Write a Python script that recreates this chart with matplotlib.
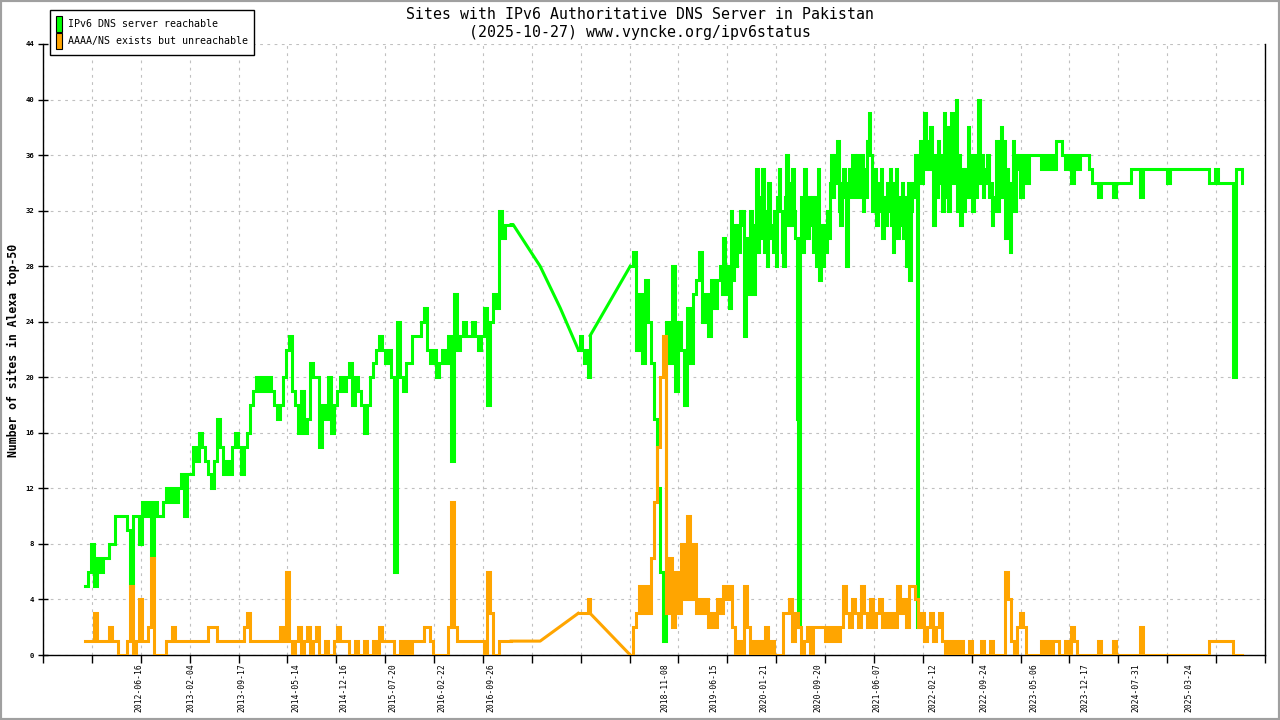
import numpy as np
import pandas as pd
import matplotlib
matplotlib.use('Agg')
import matplotlib.pyplot as plt
import matplotlib.dates as mdates
from matplotlib.patches import Rectangle, Patch
from matplotlib.font_manager import FontProperties

# ---------------- data ----------------
title_text = 'Sites with IPv6 Authoritative DNS Server in Pakistan\n(2025-10-27) www.vyncke.org/ipv6status'
ylabel_text = 'Number of sites in Alexa top-50'
series_names = ['IPv6 DNS server reachable', 'AAAA/NS exists but unreachable']

# densely sampled periods (start, end)
seg_a = ('2011-10-22', '2016-12-26')
seg_b = ('2017-10-20', '2017-12-12')
seg_c = ('2018-06-08', '2025-11-12')
seg_c1 = ('2018-06-08', '2019-06-29')
seg_c2 = ('2019-07-12', '2023-02-27')
seg_c3 = ('2023-03-05', '2025-11-12')

green_a = [
    5, 6, 8, 5, 7, 6, 7, 7, 8, 8,
    10, 10, 10, 10, 9, 5, 10, 10, 8, 11,
    10, 11, 7, 11, 10, 10, 11, 12, 11, 12,
    11, 12, 13, 10, 13, 13, 15, 14, 16, 15,
    14, 13, 12, 14, 17, 15, 13, 14, 13, 15,
    16, 15, 13, 15, 16, 18, 19, 20, 19, 20,
    19, 20, 19, 18, 17, 18, 20, 22, 23, 19,
    18, 16, 19, 16, 17, 21, 20, 20, 15, 18,
    17, 20, 16, 18, 19, 20, 19, 20, 21, 18,
    20, 19, 18, 16, 18, 20, 21, 22, 23, 22,
    21, 22, 20, 6, 24, 20, 19, 21, 21, 23,
    23, 23, 24, 25, 22, 21, 22, 20, 21, 22,
    21, 23, 14, 26, 22, 23, 24, 23, 23, 24,
    23, 22, 23, 25, 18, 24, 26, 25, 32, 30,
    31, 31, 31,
]
orange_a = [
    1, 1, 1, 3, 1, 1, 1, 1, 2, 1,
    1, 0, 0, 0, 1, 5, 0, 1, 4, 1,
    1, 2, 7, 0, 0, 0, 0, 1, 1, 2,
    1, 1, 1, 1, 1, 1, 1, 1, 1, 1,
    1, 2, 2, 2, 1, 1, 1, 1, 1, 1,
    1, 1, 1, 2, 3, 1, 1, 1, 1, 1,
    1, 1, 1, 1, 1, 2, 1, 6, 1, 0,
    1, 2, 0, 1, 2, 0, 1, 2, 0, 0,
    1, 0, 0, 1, 2, 1, 1, 1, 0, 0,
    1, 0, 0, 1, 0, 0, 1, 0, 2, 1,
    1, 1, 1, 0, 0, 1, 0, 1, 0, 1,
    1, 1, 1, 2, 2, 1, 0, 0, 0, 0,
    0, 2, 11, 2, 1, 1, 1, 1, 1, 1,
    1, 1, 1, 0, 6, 3, 0, 0, 1, 1,
    1, 1, 1,
]

# sparse periods (few samples)
green_gap1_dates = ['2016-12-26', '2017-01-04', '2017-05-04', '2017-08-01', '2017-10-20']
green_gap1 = [31, 31, 28, 25, 22]
orange_gap1_dates = ['2016-12-26', '2017-05-04', '2017-10-20']
orange_gap1 = [1, 1, 3]

green_b = [22, 23, 22, 21, 22, 20, 23]
orange_b = [3, 3, 3, 3, 3, 4, 3]

gap2_dates = ['2017-12-12', '2018-06-08']
green_gap2 = [23, 28]
orange_gap2 = [3, 0]

green_c1 = [
    28, 29, 22, 26, 21, 27, 24, 21, 17, 12,
    6, 1, 24, 21, 28, 19, 24, 22, 18, 25,
    21, 26, 27, 29, 24, 26, 23, 27, 25, 27,
]
green_c2 = [
    28, 26, 30, 28, 26, 28, 25, 32, 27, 31, 28, 31, 29, 32, 31, 32, 23, 29, 30, 26,
    32, 27, 26, 31, 35, 29, 33, 30, 35, 29, 32, 28, 34, 30, 31, 29, 32, 28, 33, 35,
    32, 29, 28, 33, 36, 31, 34, 31, 35, 32, 30, 17, 2, 30, 33, 29, 35, 31, 30, 33,
    31, 33, 29, 33, 28, 35, 27, 31, 28, 31, 29, 32, 30, 34, 36, 33, 36, 34, 37, 32,
    31, 34, 35, 33, 28, 34, 35, 33, 36, 36, 33, 36, 34, 33, 36, 32, 35, 33, 37, 39,
    36, 32, 34, 35, 31, 34, 32, 35, 30, 33, 31, 34, 32, 35, 31, 29, 34, 35, 30, 33,
    31, 34, 30, 33, 28, 34, 27, 32, 34, 33, 36, 2, 35, 37, 34, 36, 39, 35, 37, 35,
    38, 35, 31, 36, 33, 37, 34, 36, 32, 39, 33, 38, 32, 36, 39, 34, 37, 40, 32, 36,
    31, 35, 32, 35, 33, 38, 33, 36, 32, 36, 33, 35, 40, 34, 36, 33, 35, 34, 36, 33,
    34, 31, 33, 32, 37, 32, 35, 38, 33, 37, 30, 35, 31, 29, 34, 37, 32, 36, 35, 36,
]
green_c3 = [
    33, 36, 34, 36, 36, 36, 36, 35, 36, 35,
    36, 35, 37, 37, 36, 35, 36, 34, 36, 35,
    36, 36, 36, 35, 34, 34, 33, 34, 34, 34,
    34, 33, 34, 34, 34, 34, 34, 35, 35, 35,
    33, 35, 35, 35, 35, 35, 35, 35, 35, 34,
    35, 35, 35, 35, 35, 35, 35, 35, 35, 35,
    35, 35, 35, 34, 34, 35, 34, 34, 34, 34,
    34, 20, 35, 35, 34,
]
orange_c = [
    0, 2, 3, 5, 3, 5, 3, 7, 11, 15,
    20, 23, 3, 7, 2, 6, 3, 8, 4, 10,
    4, 8, 3, 4, 3, 4, 2, 3, 2, 4,
    3, 5, 4, 5, 2, 0, 1, 0, 5, 2,
    0, 1, 0, 1, 0, 2, 0, 1, 0, 0,
    0, 3, 3, 4, 1, 3, 2, 0, 1, 2,
    0, 2, 2, 2, 2, 1, 2, 1, 2, 1,
    2, 5, 3, 2, 4, 3, 2, 5, 3, 2,
    4, 2, 3, 4, 2, 3, 2, 3, 2, 5,
    3, 4, 2, 5, 5, 4, 2, 3, 1, 2,
    3, 1, 2, 3, 1, 0, 1, 0, 1, 0,
    1, 0, 0, 1, 0, 0, 0, 1, 0, 0,
    1, 0, 0, 0, 0, 6, 4, 1, 0, 2,
    3, 2, 0, 0, 0, 0, 0, 1, 0, 1,
    0, 1, 1, 0, 0, 1, 0, 2, 1, 0,
    0, 0, 0, 0, 0, 0, 1, 0, 0, 0,
    0, 1, 0, 0, 0, 0, 0, 0, 0, 0,
    2, 0, 0, 0, 0, 0, 0, 0, 0, 0,
    0, 0, 0, 0, 0, 0, 0, 0, 0, 0,
    0, 0, 0, 1, 1, 1, 1, 1, 1, 1,
    1, 0, 0, 0, 0,
]

x_label_dates = ['2012-06-16', '2013-02-04', '2013-09-17', '2014-05-14', '2014-12-16',
                 '2015-07-20', '2016-02-22', '2016-09-26', '2018-11-08', '2019-06-15',
                 '2020-01-21', '2020-09-20', '2021-06-07', '2022-02-12', '2022-09-24',
                 '2023-05-06', '2023-12-17', '2024-07-31', '2025-03-24']
x_range = ('2011-04-19', '2026-02-24')
y_ticks = list(range(0, 45, 4))

# ---------------- drawing ----------------
GREEN = '#00ff00'
ORANGE = '#ffa500'
LW = 2.2


def seg_dates(seg, n):
    return pd.date_range(seg[0], seg[1], periods=n)


def joined(parts):
    d = np.concatenate([mdates.date2num(seg_dates(s, len(v))) for s, v in parts])
    v = np.concatenate([np.asarray(v, dtype=float) for s, v in parts])
    return d, v


fig = plt.figure(figsize=(12.8, 7.2), dpi=100)
fig.patch.set_facecolor('white')
ax = fig.add_axes([43 / 1280, 65 / 720, 1222 / 1280, 611 / 720])


def draw_series(dense_groups, gaps, color):
    for parts in dense_groups:
        d, v = joined(parts)
        ax.step(d, v, where='post', color=color, lw=LW, solid_joinstyle='miter', zorder=3)
    for dts, vals in gaps:
        ax.plot(mdates.date2num(pd.to_datetime(dts)), vals, color=color, lw=LW, zorder=3)


draw_series([[(seg_a, green_a)], [(seg_b, green_b)],
             [(seg_c1, green_c1), (seg_c2, green_c2), (seg_c3, green_c3)]],
            [(green_gap1_dates, green_gap1), (gap2_dates, green_gap2)], GREEN)
draw_series([[(seg_a, orange_a)], [(seg_b, orange_b)], [(seg_c, orange_c)]],
            [(orange_gap1_dates, orange_gap1), (gap2_dates, orange_gap2)], ORANGE)

x0, x1 = mdates.date2num(pd.to_datetime(x_range[0])), mdates.date2num(pd.to_datetime(x_range[1]))
ax.set_xlim(x0, x1)
ax.set_ylim(0, 44)

# major x ticks: regular, unlabeled, with grid
ax.set_xticks(np.linspace(x0, x1, 26))
ax.set_xticklabels([])
# labels at sample dates (minor ticks, no marks)
ax.set_xticks(mdates.date2num(pd.to_datetime(x_label_dates)), labels=x_label_dates, minor=True)
ax.tick_params(axis='x', which='major', direction='out', length=5.5, width=1, color='black')
ax.tick_params(axis='x', which='minor', length=0, pad=6, labelsize=5.8, labelrotation=90)
for lab in ax.get_xticklabels(minor=True):
    lab.set_family('DejaVu Sans Mono')

ax.set_yticks(y_ticks)
ax.set_yticklabels([str(v) for v in y_ticks])
ax.tick_params(axis='y', which='major', direction='inout', length=7, width=1, pad=3, labelsize=5.2)
for lab in ax.get_yticklabels():
    lab.set_family('DejaVu Sans Mono')
    lab.set_fontweight('bold')

ax.grid(True, which='major', color='#c0c0c0', linestyle=(0, (2.5, 4)), lw=0.8)
ax.set_axisbelow(True)

for side in ['left', 'bottom', 'right']:
    ax.spines[side].set_color('black')
    ax.spines[side].set_linewidth(1.0)
ax.spines['top'].set_visible(False)

ax.set_ylabel(ylabel_text, family='DejaVu Sans Mono', fontweight='bold', fontsize=8.3)
ax.yaxis.set_label_coords((13 - 43) / 1222, (655 - 350) / 611)
ax.yaxis.label.set_va('center')

fig.text(0.5, 1 - 23.5 / 720, title_text, ha='center', va='center',
         family='DejaVu Sans Mono', fontsize=10.7, linespacing=1.3)

handles = [Patch(facecolor=GREEN, edgecolor='black', lw=0.8, label=series_names[0]),
           Patch(facecolor=ORANGE, edgecolor='black', lw=0.8, label=series_names[1])]
leg = ax.legend(handles=handles, loc='upper left', bbox_to_anchor=(50 / 1280, 1 - 10 / 720),
                bbox_transform=fig.transFigure,
                prop=FontProperties(family='DejaVu Sans Mono', size=7.2),
                frameon=True, fancybox=False, edgecolor='black', framealpha=1,
                borderpad=0.55, labelspacing=0.15, handlelength=0.65, handleheight=2.1,
                handletextpad=0.6, borderaxespad=0)
leg.get_frame().set_linewidth(1.0)
leg.set_zorder(10)

fig.add_artist(Rectangle((0, 0), 1, 1, transform=fig.transFigure, fill=False,
                         edgecolor='#a0a0a0', lw=3))

fig.savefig('out.png', dpi=100)
